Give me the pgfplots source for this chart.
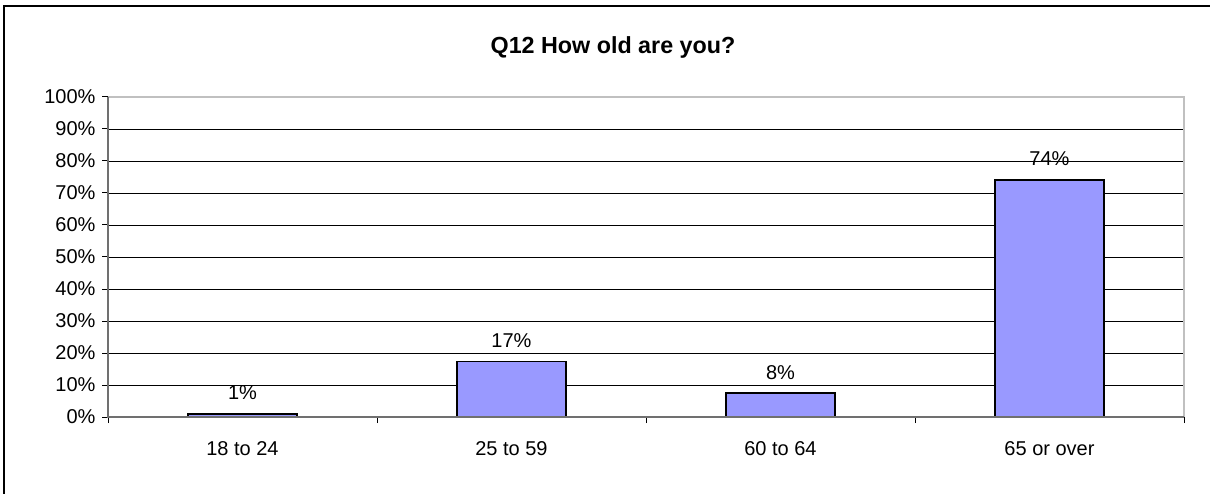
\documentclass[border=0pt]{standalone}
\usepackage{pgfplots}
\pgfplotsset{compat=1.18}
\usepackage{fontspec}
\setmainfont{Liberation Sans}
\definecolor{barfill}{HTML}{9999FF}
\definecolor{framegray}{HTML}{C0C0C0}
\definecolor{axisgray}{HTML}{707070}
\begin{document}
\begin{tikzpicture}[x=1pt,y=1pt]
\useasboundingbox (0,0) rectangle (1210,493);
% chart area border (right and bottom edges run off the picture)
\draw[line width=1.5pt] (4,-10) -- (4,487) -- (1220,487);
\node[font=\fontsize{23.3}{28}\selectfont\bfseries] at (613,446) {Q12 How old are you?};
\begin{axis}[
    at={(108pt,76pt)}, anchor=south west,
    width=1076pt, height=320pt, scale only axis,
    ybar, bar width=0.405,
    xmin=-0.5, xmax=3.5,
    ymin=0, ymax=100,
    xtick={-0.5,0.5,1.5,2.5,3.5},
    x tick label as interval,
    xticklabels={18 to 24,25 to 59,60 to 64,65 or over},
    ytick={0,10,...,100},
    yticklabel={\pgfmathprintnumber{\tick}\%},
    /pgf/number format/assume math mode=true,
    xtick pos=lower, ytick pos=left,
    tick align=outside, major tick length=6pt,
    tick style={black, line width=1pt},
    ticklabel style={font=\fontsize{20}{24}\selectfont},
    yticklabel style={xshift=-3pt},
    xticklabel style={yshift=-15pt},
    ymajorgrids, grid style={black, line width=0.8pt},
    axis line style={draw=none},
    nodes near coords={\pgfmathprintnumber[fixed,precision=0]{\pgfplotspointmeta}\%},
    every node near coord/.append style={font=\fontsize{20}{24}\selectfont, anchor=base, yshift=14pt},
    clip=false,
]
\addplot[fill=barfill, draw=black, line width=1.6pt]
    coordinates {(0,1.0) (1,17.3) (2,7.5) (3,74.1)};
\draw[framegray, line width=1.6pt] (rel axis cs:0,1) -- (rel axis cs:1,1) -- (rel axis cs:1,0);
\draw[axisgray, line width=1.4pt] (rel axis cs:0,1) -- (rel axis cs:0,0) -- (rel axis cs:1,0);
\end{axis}
\end{tikzpicture}
\end{document}
